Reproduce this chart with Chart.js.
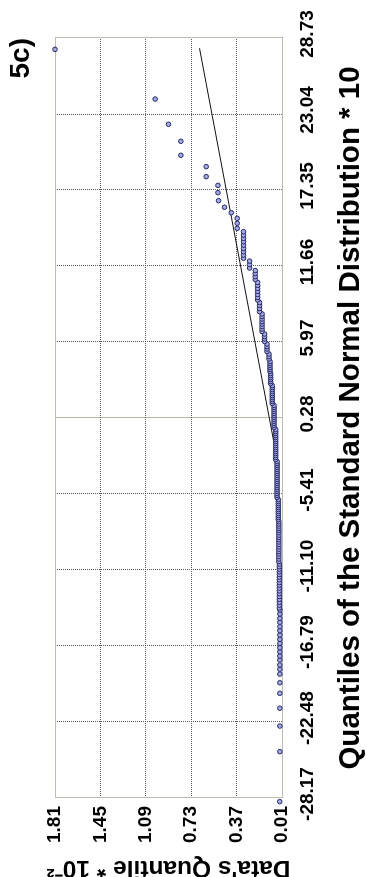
<!DOCTYPE html>
<html>
<head>
<meta charset="utf-8">
<script src="https://cdn.jsdelivr.net/npm/chart.js@4.4.1/dist/chart.umd.min.js"></script>
<style>
  html, body { margin: 0; padding: 0; background: #fff; overflow: hidden; }
  /* the Q-Q panel is laid out landscape and turned a quarter turn to stand upright */
  #frame {
    position: absolute; left: 0; top: 0;
    width: 877px; height: 366px;
    transform-origin: 0 0;
    transform: translateY(877px) rotate(-90deg);
  }
  canvas { display: block; }
</style>
</head>
<body>
<div id="frame"><canvas id="qq" width="877" height="366"></canvas></div>
<script>
const FONT = "Arial, 'Liberation Sans', Helvetica, sans-serif";

const panelLabel = '5c)';
const xTitle = 'Quantiles of the Standard Normal Distribution * 10';
const yTitle = "Data's Quantile * 10\u207B\u00B2";

// tick labels of both axes
const quantileTicks = ['-28.17', '-22.48', '-16.79', '-11.10', '-5.41', '0.28', '5.97', '11.66', '17.35', '23.04', '28.73'];
const valueTicks = ['0.01', '0.37', '0.73', '1.09', '1.45', '1.81'];

// theoretical normal quantiles (*10), ascending
const normalQuantiles = [
  -28.44, -24.70, -22.78, -21.45, -20.33, -19.54, -18.89, -18.53, -18.21, -17.84, -17.54,
  -17.22, -16.92, -16.59, -16.29, -15.97, -15.64, -15.34, -15.01, -14.72, -14.39, -14.09,
  -13.94, -13.73, -13.51, -13.29, -13.08, -12.87, -12.66, -12.45, -12.24, -12.04, -11.83,
  -11.63, -11.43, -11.23, -11.04, -10.85, -10.65,
  -10.46, -10.28, -10.09, -9.90, -9.72, -9.54, -9.36, -9.18, -9.00, -8.83, -8.66, -8.49,
  -8.31, -8.14, -7.98, -7.81, -7.65, -7.48,
  -7.32, -7.17, -7.02, -6.87, -6.72, -6.57, -6.42, -6.27, -6.12, -5.97, -5.82,
  -5.67, -5.52, -5.37, -5.22, -5.07, -4.92, -4.77, -4.62, -4.47, -4.32, -4.17, -4.02,
  -3.87, -3.72, -3.57, -3.42, -3.27, -3.13, -2.98,
  -2.83, -2.68, -2.53, -2.38, -2.23, -2.08, -1.93, -1.78, -1.63, -1.48, -1.33, -1.18,
  -1.03, -0.88, -0.73, -0.58,
  -0.43, -0.28, -0.13, 0.02, 0.17, 0.32, 0.47, 0.62, 0.77, 0.92, 1.07, 1.22,
  1.37, 1.52, 1.66, 1.81, 1.96, 2.11, 2.26, 2.41, 2.56, 2.71,
  2.86, 3.01, 3.16, 3.31, 3.46, 3.61,
  3.76, 3.91, 4.06, 4.21, 4.36, 4.51,
  4.70, 4.88, 5.07,
  5.26, 5.45, 5.63, 5.82,
  6.01, 6.20, 6.38, 6.57,
  6.76, 6.94, 7.13, 7.32, 7.50, 7.69, 7.88, 8.07,
  8.25, 8.48, 8.71, 8.93,
  9.12, 9.31, 9.53, 9.76, 9.98, 10.21, 10.43,
  10.65, 10.87, 11.10, 11.32,
  11.51, 11.77, 12.03,
  12.24, 12.48, 12.73, 12.98, 13.23, 13.48, 13.73, 13.98, 14.23,
  14.48, 14.86, 15.23,
  15.65, 16.06, 16.55, 17.15, 17.70, 18.35, 19.10, 19.95, 21.00, 22.27, 24.16, 27.88
];

// observed data quantiles (*10^-2), same order
const dataQuantiles = [
  0.028, 0.027, 0.027, 0.027, 0.027, 0.027, 0.027, 0.027, 0.027, 0.027, 0.027,
  0.027, 0.027, 0.027, 0.027, 0.027, 0.027, 0.027, 0.027, 0.027, 0.027, 0.027,
  0.031, 0.031, 0.031, 0.031, 0.031, 0.031, 0.031, 0.031, 0.031, 0.031, 0.031,
  0.031, 0.031, 0.031, 0.031, 0.031, 0.031,
  0.035, 0.035, 0.035, 0.035, 0.035, 0.035, 0.035, 0.035, 0.035, 0.035, 0.035, 0.035,
  0.035, 0.035, 0.035, 0.035, 0.035, 0.035,
  0.039, 0.039, 0.039, 0.039, 0.039, 0.039, 0.039, 0.039, 0.039, 0.039, 0.039,
  0.049, 0.049, 0.049, 0.049, 0.049, 0.049, 0.049, 0.049, 0.049, 0.049, 0.049, 0.049,
  0.049, 0.049, 0.049, 0.049, 0.049, 0.049, 0.049,
  0.060, 0.060, 0.060, 0.060, 0.060, 0.060, 0.060, 0.060, 0.060, 0.060, 0.060, 0.060,
  0.060, 0.060, 0.060, 0.060,
  0.073, 0.073, 0.073, 0.073, 0.073, 0.073, 0.073, 0.073, 0.073, 0.073, 0.073, 0.073,
  0.087, 0.087, 0.087, 0.087, 0.087, 0.087, 0.087, 0.087, 0.087, 0.087,
  0.100, 0.100, 0.100, 0.100, 0.100, 0.100,
  0.105, 0.105, 0.105, 0.105, 0.105, 0.105,
  0.113, 0.113, 0.113,
  0.129, 0.129, 0.129, 0.129,
  0.148, 0.148, 0.148, 0.148,
  0.168, 0.168, 0.168, 0.168, 0.168, 0.168, 0.168, 0.168,
  0.188, 0.188, 0.188, 0.188,
  0.203, 0.203, 0.203, 0.203, 0.203, 0.203, 0.203,
  0.222, 0.222, 0.222, 0.222,
  0.267, 0.267, 0.267,
  0.315, 0.315, 0.315, 0.315, 0.315, 0.315, 0.315, 0.315, 0.315,
  0.365, 0.365, 0.365,
  0.412, 0.466, 0.513, 0.518, 0.518, 0.611, 0.611, 0.812, 0.812, 0.910, 1.016, 1.81
];

// reference line through the upper part of the plot
const fitQuantiles = [-1.6, 27.96];
const fitValues = [0.073, 0.664];

const crossTick = quantileTicks.indexOf('0.28');

// light frame round the plotting area
const plotFrame = {
  id: 'plotFrame',
  beforeDatasetsDraw(chart) {
    const { ctx, chartArea: a } = chart;
    const al = p => Math.round(p - 0.5) + 0.5;
    ctx.save();
    ctx.strokeStyle = '#bcbcb0';
    ctx.lineWidth = 1;
    ctx.setLineDash([]);
    ctx.strokeRect(al(a.left), al(a.top), al(a.right) - al(a.left), al(a.bottom) - al(a.top));
    ctx.restore();
  }
};

new Chart(document.getElementById('qq'), {
  type: 'scatter',
  data: {
    datasets: [
      {
        data: normalQuantiles.map((q, i) => ({ x: q, y: dataQuantiles[i] })),
        pointRadius: 2.3,
        pointBackgroundColor: '#a3a9e4',
        pointBorderColor: '#262963',
        pointBorderWidth: 1,
        showLine: false,
        clip: false
      },
      {
        data: fitQuantiles.map((q, i) => ({ x: q, y: fitValues[i] })),
        showLine: true,
        borderColor: '#111111',
        borderWidth: 1,
        pointRadius: 0,
        fill: false
      }
    ]
  },
  options: {
    responsive: false,
    animation: false,
    devicePixelRatio: 1,
    layout: { padding: { left: 0, right: 38, top: 0, bottom: 0 } },
    plugins: {
      legend: { display: false },
      tooltip: { enabled: false },
      title: {
        display: true,
        text: panelLabel,
        align: 'end',
        color: '#000',
        font: { family: FONT, size: 28, weight: 'bold', lineHeight: 1 },
        padding: { top: 7, bottom: 20 }
      }
    },
    scales: {
      x: {
        type: 'linear',
        position: 'bottom',
        min: Number(quantileTicks[0]),
        max: Number(quantileTicks[quantileTicks.length - 1]),
        afterBuildTicks: s => { s.ticks = quantileTicks.map(t => ({ value: Number(t) })); },
        afterFit: s => { s.height = 84; },
        ticks: {
          autoSkip: false, maxRotation: 0, minRotation: 0,
          padding: 14, labelOffset: 4,
          color: '#000',
          font: { family: FONT, size: 19, weight: 'bold' },
          callback: (v, i) => quantileTicks[i]
        },
        grid: {
          drawTicks: false,
          lineWidth: 1,
          color: c => (c.index === crossTick ? '#b8b8a6' : '#5a5a5a')
        },
        border: {
          display: false,
          dash: c => (c.index === crossTick ? [] : [1, 1])
        },
        title: {
          display: true,
          text: xTitle,
          color: '#000',
          font: { family: FONT, size: 29.5, weight: 'bold', lineHeight: 1 },
          padding: { top: 0, bottom: 0.5 }
        }
      },
      y: {
        type: 'linear',
        position: 'left',
        min: Number(valueTicks[0]),
        max: Number(valueTicks[valueTicks.length - 1]),
        afterBuildTicks: s => { s.ticks = valueTicks.map(t => ({ value: Number(t) })); },
        afterFit: s => { s.width = 79; },
        ticks: {
          autoSkip: false,
          padding: 8,
          color: '#000',
          font: { family: FONT, size: 19, weight: 'bold' },
          callback: (v, i) => valueTicks[i]
        },
        grid: { drawTicks: false, lineWidth: 1, color: '#5a5a5a' },
        border: { display: false, dash: [1, 1] },
        title: {
          display: true,
          text: yTitle,
          color: '#000',
          font: { family: FONT, size: 24.5, weight: 'bold', lineHeight: 0.75 },
          padding: 0
        }
      }
    }
  },
  plugins: [plotFrame]
});
</script>
</body>
</html>
